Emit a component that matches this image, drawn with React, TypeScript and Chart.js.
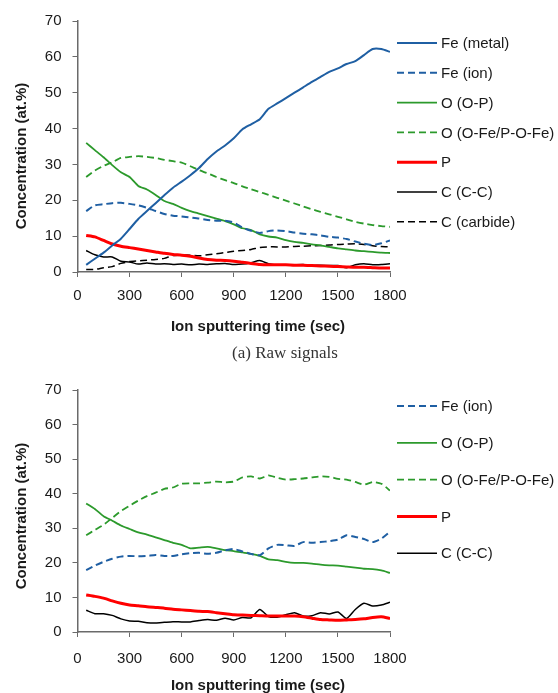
import React, { useEffect, useRef } from "react";
import { Chart, registerables } from "chart.js";
Chart.register(...registerables);

const times = [50,100,150,200,250,300,350,400,450,500,550,600,650,700,750,800,850,900,950,1000,1050,1100,1150,1200,1250,1300,1350,1400,1450,1500,1550,1600,1650,1700,1750,1800];
const xTicks = [0, 300, 600, 900, 1200, 1500, 1800];
const yTicks = [0, 10, 20, 30, 40, 50, 60, 70];

// (a) raw signals
const rawFeMetal = [2.0,3.7,5.4,7.4,9.3,12.0,14.8,17.0,19.2,21.4,23.5,25.2,27.0,29.0,31.5,33.6,35.3,37.3,39.8,41.2,42.6,45.5,47.0,48.5,50.0,51.5,53.0,54.4,55.8,56.8,58.0,58.8,60.5,62.2,62.2,61.4];
const rawFeIon = [17.0,18.6,18.9,19.2,19.3,19.0,18.6,17.9,17.0,16.2,15.7,15.5,15.2,14.9,14.5,14.3,14.3,13.8,12.4,11.5,10.9,11.4,11.6,11.4,11.0,10.7,10.5,10.2,9.8,9.6,9.2,8.5,7.9,7.5,8.0,8.8];
const rawOP = [36.0,34.0,32.0,29.8,27.8,26.5,24.0,23.0,21.5,19.8,19.0,17.9,17.0,16.3,15.6,14.9,14.2,13.3,12.2,11.7,10.5,9.9,9.6,8.9,8.4,8.1,7.7,7.4,7.0,6.6,6.3,6.0,5.8,5.6,5.4,5.3];
const rawOFe = [26.5,28.3,29.6,30.6,31.8,32.1,32.3,32.1,31.8,31.3,30.9,30.5,29.5,28.4,27.5,26.5,25.6,24.8,23.9,23.1,22.3,21.5,20.7,19.9,19.1,18.3,17.5,16.8,16.1,15.4,14.7,14.0,13.5,13.1,12.8,12.6];
const rawP = [10.2,9.8,8.8,7.8,7.2,6.8,6.4,6.0,5.6,5.2,4.9,4.7,4.4,3.9,3.5,3.3,3.2,3.0,2.7,2.4,2.1,2.0,2.0,2.0,1.9,1.9,1.8,1.7,1.6,1.5,1.4,1.3,1.3,1.2,1.1,1.1];
const rawCC = [6.0,4.8,4.2,4.2,3.0,2.8,2.2,2.5,2.2,2.3,2.1,2.2,2.0,2.2,2.1,2.3,2.4,2.1,2.2,2.6,3.2,2.3,1.9,1.9,2.0,2.1,1.8,1.9,1.8,1.8,1.2,2.0,2.3,2.0,2.1,2.3];
const rawCarbide = [0.7,0.7,1.2,1.5,2.4,2.9,3.1,3.3,3.5,3.8,4.6,4.7,4.7,4.5,4.8,5.1,5.4,5.8,6.0,6.3,6.8,7.0,7.0,7.0,7.1,7.2,7.3,7.4,7.5,7.7,7.8,7.9,7.7,7.3,7.1,7.0];

// second panel
const corFeIon = [17.9,19.2,20.3,21.2,21.8,22.0,21.9,22.0,22.3,22.0,22.0,22.5,22.8,22.9,22.6,22.9,23.6,24.0,23.3,22.6,22.2,24.2,25.2,25.1,24.9,26.0,25.8,26.0,26.3,26.7,28.0,27.5,26.9,26.0,27.0,29.0];
const corOP = [37.2,35.6,33.5,32.2,30.8,29.8,28.8,28.2,27.4,26.6,25.8,25.2,24.2,24.4,24.6,24.2,23.7,23.4,23.0,22.6,22.0,21.0,20.8,20.3,20.0,20.0,19.8,19.5,19.3,19.2,18.9,18.6,18.3,18.2,17.8,17.1];
const corOFe = [28.0,29.5,31.0,33.0,35.0,36.5,38.0,39.3,40.3,41.4,41.8,42.9,43.0,43.0,43.2,43.5,43.3,43.5,44.7,45.0,44.4,45.3,44.6,44.1,44.2,44.4,44.7,45.0,44.9,44.3,44.1,43.4,42.6,43.4,42.9,40.9];
const corP = [10.7,10.3,9.8,9.0,8.3,7.8,7.6,7.3,7.1,6.9,6.6,6.4,6.2,6.0,5.9,5.6,5.3,5.0,4.9,4.8,4.7,4.6,4.6,4.6,4.6,4.4,4.0,3.6,3.5,3.4,3.5,3.6,3.8,4.2,4.4,3.9];
const corCC = [6.3,5.3,5.3,4.8,3.8,3.2,3.1,2.7,2.6,2.8,3.0,2.9,2.9,3.3,3.6,3.4,4.0,3.5,4.2,4.1,6.5,4.5,4.3,5.0,5.6,4.6,4.7,5.6,5.2,5.8,3.9,6.5,8.3,7.5,7.8,8.6];

const BLUE = "#1f5fa3";
const GREEN = "#2c9a2c";
const RED = "#ff0000";
const BLACK = "#000000";
const DASH = [7, 4];
const FONT = "'Liberation Sans', Arial, sans-serif";

type S = { label: string; data: number[]; color: string; width: number; dash: number[] };

const topSeries: S[] = [
  { label: "Fe (metal)", data: rawFeMetal, color: BLUE, width: 2, dash: [] },
  { label: "Fe (ion)", data: rawFeIon, color: BLUE, width: 2, dash: DASH },
  { label: "O (O-P)", data: rawOP, color: GREEN, width: 1.8, dash: [] },
  { label: "O (O-Fe/P-O-Fe)", data: rawOFe, color: GREEN, width: 1.8, dash: DASH },
  { label: "P", data: rawP, color: RED, width: 3, dash: [] },
  { label: "C (C-C)", data: rawCC, color: BLACK, width: 1.5, dash: [] },
  { label: "C (carbide)", data: rawCarbide, color: BLACK, width: 1.5, dash: DASH },
];
const botSeries: S[] = [
  { label: "Fe (ion)", data: corFeIon, color: BLUE, width: 2, dash: DASH },
  { label: "O (O-P)", data: corOP, color: GREEN, width: 1.8, dash: [] },
  { label: "O (O-Fe/P-O-Fe)", data: corOFe, color: GREEN, width: 1.8, dash: DASH },
  { label: "P", data: corP, color: RED, width: 3, dash: [] },
  { label: "C (C-C)", data: corCC, color: BLACK, width: 1.5, dash: [] },
];

type Layout = { H: number; top: number; bottom: number; legendY0: number; legendStep: number; xTitleY: number; yTitleY: number; xPad: number };

function PanelChart({ series, lay }: { series: S[]; lay: Layout }) {
  const ref = useRef<HTMLCanvasElement | null>(null);
  useEffect(() => {
    if (!ref.current) return;
    const overlay = {
      id: "overlay",
      afterDraw(chart: any) {
        const ctx = chart.ctx as CanvasRenderingContext2D;
        ctx.save();
        // legend
        series.forEach((s, i) => {
          const y = lay.legendY0 + i * lay.legendStep;
          ctx.beginPath();
          ctx.strokeStyle = s.color;
          ctx.lineWidth = s.width;
          ctx.setLineDash(s.dash);
          ctx.moveTo(397, y);
          ctx.lineTo(437, y);
          ctx.stroke();
          ctx.setLineDash([]);
          ctx.fillStyle = "#1a1a1a";
          ctx.font = `15px ${FONT}`;
          ctx.textAlign = "left";
          ctx.textBaseline = "middle";
          ctx.fillText(s.label, 441, y + 1);
        });
        // axis titles
        ctx.fillStyle = "#1a1a1a";
        ctx.font = `bold 15px ${FONT}`;
        ctx.textAlign = "center";
        ctx.textBaseline = "middle";
        ctx.fillText("Ion sputtering time (sec)", 258, lay.xTitleY);
        ctx.translate(21.5, lay.yTitleY);
        ctx.rotate(-Math.PI / 2);
        ctx.fillText("Concentration (at.%)", 0, 0);
        ctx.restore();
      },
    };
    const chart = new Chart(ref.current, {
      type: "line",
      data: {
        datasets: series.map((s) => ({
          label: s.label,
          data: times.map((t, i) => ({ x: t, y: s.data[i] })),
          borderColor: s.color,
          backgroundColor: s.color,
          borderWidth: s.width,
          borderDash: s.dash,
          pointRadius: 0,
          tension: 0.2,
          fill: false,
        })),
      },
      options: {
        responsive: false,
        animation: false,
        devicePixelRatio: 1,
        layout: { padding: { left: 0, right: 168, top: lay.top, bottom: 0 } },
        plugins: { legend: { display: false }, tooltip: { enabled: false } },
        scales: {
          x: {
            type: "linear",
            min: 0,
            max: 1800,
            afterBuildTicks: (s: any) => { s.ticks = xTicks.map((v) => ({ value: v })); },
            afterFit: (s: any) => { s.height = lay.H - lay.bottom; },
            ticks: { color: "#1a1a1a", font: { family: FONT, size: 15 }, padding: lay.xPad, maxRotation: 0, autoSkip: false, callback: (v: any) => String(v) },
            grid: { drawOnChartArea: false, drawTicks: true, tickLength: 5, color: "#6a6a6a", lineWidth: 1 },
            border: { display: true, color: "#6a6a6a", width: 1.5 },
          },
          y: {
            type: "linear",
            min: 0,
            max: 70,
            afterBuildTicks: (s: any) => { s.ticks = yTicks.map((v) => ({ value: v })); },
            afterFit: (s: any) => { s.width = 77.5; },
            ticks: { color: "#1a1a1a", font: { family: FONT, size: 15 }, padding: 11, callback: (v: any) => String(v) },
            grid: { drawOnChartArea: false, drawTicks: true, tickLength: 5, color: "#6a6a6a", lineWidth: 1 },
            border: { display: true, color: "#6a6a6a", width: 1.5 },
          },
        },
      },
      plugins: [overlay],
    } as any);
    return () => chart.destroy();
  }, []);
  return <canvas ref={ref} width={558} height={lay.H} style={{ display: "block", width: 558, height: lay.H }} />;
}

export default function App() {
  const topLay: Layout = { H: 370, top: 21, bottom: 272, legendY0: 43, legendStep: 29.8, xTitleY: 327, yTitleY: 156, xPad: 10 };
  const botLay: Layout = { H: 323, top: 12, bottom: 262, legendY0: 36, legendStep: 36.8, xTitleY: 316, yTitleY: 146, xPad: 13 };
  return (
    <div style={{ position: "absolute", left: 0, top: 0, width: 558, height: 693, background: "#fff", overflow: "hidden" }}>
      <div style={{ position: "absolute", left: 0, top: 0 }}>
        <PanelChart series={topSeries} lay={topLay} />
      </div>
      <div
        style={{
          position: "absolute",
          left: 185,
          width: 200,
          top: 343,
          textAlign: "center",
          fontFamily: "'Liberation Serif', 'Times New Roman', serif",
          fontSize: 17,
          lineHeight: "20px",
          color: "#333",
        }}
      >
        (a) Raw signals
      </div>
      <div style={{ position: "absolute", left: 0, top: 370 }}>
        <PanelChart series={botSeries} lay={botLay} />
      </div>
    </div>
  );
}
